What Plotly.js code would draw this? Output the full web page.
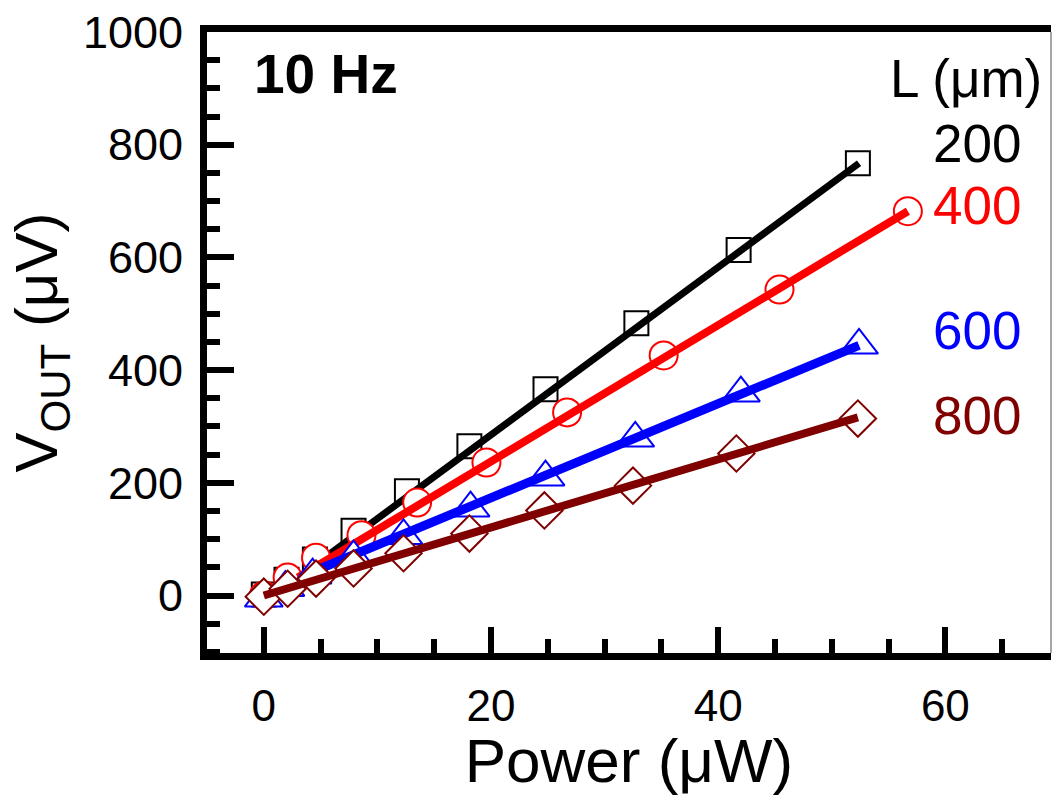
<!DOCTYPE html>
<html>
<head>
<meta charset="utf-8">
<script src="https://cdn.plot.ly/plotly-3.0.1.min.js"></script>
<style>html,body{margin:0;padding:0;background:#fff;}#chart{width:1054px;height:795px;}</style>
</head>
<body>
<div id="chart"></div>
<script>
// ---- data ----
const seriesNames = ["200", "400", "600", "800"];
const power_200 = [0, 2.0, 4.5, 7.9, 12.6, 18.1, 24.8, 32.8, 41.8, 52.3];
const vout_200  = [2, 28, 64, 115, 185, 265, 366, 483, 613, 767];
const power_400 = [0, 2.1, 4.6, 8.6, 13.5, 19.6, 26.7, 35.2, 45.4, 56.7];
const vout_400  = [0, 32, 67, 107, 165, 236, 325, 426, 543, 682];
const power_600 = [0, 1.9, 4.3, 7.9, 12.3, 18.2, 24.8, 32.7, 42.0, 52.4];
const vout_600  = [-5, 14, 36, 68, 106, 155, 210, 279, 359, 444];
const power_800 = [0, 2.1, 4.6, 7.9, 12.3, 18.1, 24.7, 32.5, 41.6, 52.3];
const vout_800  = [-2, 12, 30, 48, 75, 110, 151, 195, 252, 314];
// linear-fit lines (end points)
const fitX_200 = [5.4, 52.4];  const fitY_200 = [68, 767];
const fitX_400 = [3.0, 56.7];  const fitY_400 = [32, 682];
const fitX_600 = [5.0, 52.4];  const fitY_600 = [48, 444];
const fitX_800 = [0.0, 52.3];  const fitY_800 = [0, 316];
const xTicks = [0, 20, 40, 60];
const yTicks = [0, 200, 400, 600, 800, 1000];

const FONT = "'Liberation Sans', Arial, sans-serif";
const colors = ["#000000", "#ff0000", "#0000ff", "#800000"];
const symbols = ["square", "circle", "triangle-up", "diamond"];
const msize = [24, 28, 33, 28];
const lw = [7, 8, 9, 8];

const px = [power_200, power_400, power_600, power_800];
const py = [vout_200, vout_400, vout_600, vout_800];
const fx = [fitX_200, fitX_400, fitX_600, fitX_800];
const fy = [fitY_200, fitY_400, fitY_600, fitY_800];

const traces = [];
for (let i = 0; i < 4; i++) {
  traces.push({
    x: px[i], y: py[i], type: "scatter", mode: "markers", name: seriesNames[i],
    marker: {symbol: symbols[i], size: msize[i], color: "#ffffff",
             line: {color: colors[i], width: 2}},
    showlegend: false, hoverinfo: "skip"
  });
  traces.push({
    x: fx[i], y: fy[i], type: "scatter", mode: "lines",
    line: {color: colors[i], width: lw[i]},
    showlegend: false, hoverinfo: "skip"
  });
}

const layout = {
  width: 1054, height: 795,
  margin: {l: 207, r: 3, t: 32, b: 142},
  paper_bgcolor: "#ffffff", plot_bgcolor: "#ffffff",
  font: {family: FONT, color: "#000"},
  showlegend: false,
  xaxis: {
    range: [-5, 69.3], showgrid: false, zeroline: false,
    showline: true, linewidth: 7, linecolor: "#000", mirror: true,
    tickmode: "array", tickvals: xTicks, ticktext: xTicks.map(String),
    ticks: "inside", ticklen: 26, tickwidth: 6, tickcolor: "#000",
    minor: {dtick: 5, tick0: 0, ticks: "inside", ticklen: 14, tickwidth: 6, tickcolor: "#000", showgrid: false},
    tickfont: {size: 44, family: FONT, color: "#000"},
    ticklabelstandoff: 8,
    title: {text: "Power (μW)", font: {size: 62, family: FONT, color: "#000"}, standoff: 0}
  },
  yaxis: {
    range: [-102, 1000], showgrid: false, zeroline: false,
    showline: true, linewidth: 7, linecolor: "#000", mirror: false,
    tickmode: "array", tickvals: yTicks, ticktext: yTicks.map(String),
    ticks: "inside", ticklen: 27, tickwidth: 6, tickcolor: "#000",
    minor: {dtick: 50, tick0: 0, ticks: "inside", ticklen: 13, tickwidth: 6, tickcolor: "#000", showgrid: false},
    tickfont: {size: 45, family: FONT, color: "#000"},
    ticklabelstandoff: 8,
    title: {text: "V<sub>OUT</sub> (μV)", font: {size: 60, family: FONT, color: "#000"}, standoff: 8}
  },
  shapes: [
    {type: "line", xref: "paper", yref: "paper", x0: 1, x1: 1, y0: 0, y1: 1,
     line: {color: "#888888", width: 1.5}}
  ],
  annotations: [
    {text: "<b>10 Hz</b>", xref: "paper", yref: "paper", x: 0.053, y: 0.932, xanchor: "left", yanchor: "middle",
     showarrow: false, font: {size: 55, family: FONT, color: "#000"}},
    {text: "L (μm)", xref: "paper", yref: "paper", x: 0.992, y: 0.925, xanchor: "right", yanchor: "middle",
     showarrow: false, font: {size: 53, family: FONT, color: "#000"}},
    {text: seriesNames[0], xref: "paper", yref: "paper", x: 0.967, y: 0.821, xanchor: "right", yanchor: "middle",
     showarrow: false, font: {size: 53, family: FONT, color: colors[0]}},
    {text: seriesNames[1], xref: "paper", yref: "paper", x: 0.967, y: 0.720, xanchor: "right", yanchor: "middle",
     showarrow: false, font: {size: 53, family: FONT, color: colors[1]}},
    {text: seriesNames[2], xref: "paper", yref: "paper", x: 0.967, y: 0.520, xanchor: "right", yanchor: "middle",
     showarrow: false, font: {size: 53, family: FONT, color: colors[2]}},
    {text: seriesNames[3], xref: "paper", yref: "paper", x: 0.967, y: 0.383, xanchor: "right", yanchor: "middle",
     showarrow: false, font: {size: 53, family: FONT, color: colors[3]}}
  ]
};

Plotly.newPlot("chart", traces, layout, {displayModeBar: false, staticPlot: true});
</script>
</body>
</html>
